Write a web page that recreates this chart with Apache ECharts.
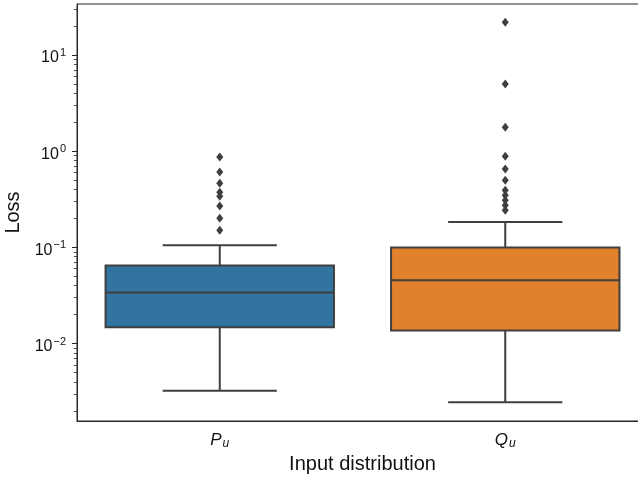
<!DOCTYPE html>
<html>
<head>
<meta charset="utf-8">
<script src="https://cdn.jsdelivr.net/npm/echarts@6/dist/echarts.min.js"></script>
<style>
html, body { margin: 0; padding: 0; background: #fff; }
#chart { width: 638px; height: 477px; }
</style>
</head>
<body>
<div id="chart"></div>
<script>
var categories = ['P', 'Q'];
var boxColors = ['#3274a1', '#e1812c'];
// [lower whisker, Q1, median, Q3, upper whisker] of the loss
var boxP = [0.00324, 0.0148, 0.0340, 0.0649, 0.105];
var boxQ = [0.00245, 0.0137, 0.0456, 0.0998, 0.184];
var outliersP = [0.869, 0.607, 0.466, 0.375, 0.341, 0.269, 0.201, 0.151];
var outliersQ = [22.0, 4.99, 1.78, 0.889, 0.652, 0.500, 0.394, 0.349, 0.310, 0.275, 0.244];
var majorTicks = [-2, -1, 0, 1];
var yMin = -2.805, yMax = 1.531;

var lineColor = '#3f3f3f';
var font = 'Liberation Sans, Arial, Helvetica, sans-serif';

// log axis emulated on a value axis: minor ticks at k*10^n
var minorTicks = [];
for (var n = -3; n <= 1; ++n) {
    for (var k = 2; k <= 9; ++k) {
        var t = n + Math.log10(k);
        if (t > yMin && t < yMax) minorTicks.push(t);
    }
}

var boxData = [boxP, boxQ].map(function (b, i) {
    return [i].concat(b.map(function (v) { return Math.log10(v); }));
});
var flierData = [];
outliersP.forEach(function (v) { flierData.push([0, Math.log10(v)]); });
outliersQ.forEach(function (v) { flierData.push([1, Math.log10(v)]); });

function renderBox(params, api) {
    var x = api.value(0);
    var bw = api.size([1, 0])[0] * 0.8;
    var lo = api.coord([x, api.value(1)]);
    var q1 = api.coord([x, api.value(2)]);
    var md = api.coord([x, api.value(3)]);
    var q3 = api.coord([x, api.value(4)]);
    var hi = api.coord([x, api.value(5)]);
    var cx = lo[0];
    var stroke = { stroke: lineColor, lineWidth: 2, fill: null };
    return {
        type: 'group',
        children: [
            { type: 'line', shape: { x1: cx, y1: lo[1], x2: cx, y2: q1[1] }, style: stroke },
            { type: 'line', shape: { x1: cx, y1: q3[1], x2: cx, y2: hi[1] }, style: stroke },
            { type: 'line', shape: { x1: cx - bw / 4, y1: lo[1], x2: cx + bw / 4, y2: lo[1] }, style: stroke },
            { type: 'line', shape: { x1: cx - bw / 4, y1: hi[1], x2: cx + bw / 4, y2: hi[1] }, style: stroke },
            { type: 'rect', shape: { x: cx - bw / 2, y: q3[1], width: bw, height: q1[1] - q3[1] },
              style: { fill: boxColors[params.dataIndex], stroke: lineColor, lineWidth: 2 } },
            { type: 'line', shape: { x1: cx - bw / 2, y1: md[1], x2: cx + bw / 2, y2: md[1] }, style: stroke }
        ]
    };
}

var chart = echarts.init(document.getElementById('chart'));
chart.setOption({
    animation: false,
    textStyle: { fontFamily: font },
    grid: {
        left: 77, right: -10, top: 4, bottom: 56,
        outerBoundsMode: 'none',
        containLabel: false,
        show: true, borderColor: '#262626', borderWidth: 1, backgroundColor: 'transparent'
    },
    xAxis: {
        type: 'category',
        data: categories,
        boundaryGap: true,
        name: 'Input distribution',
        nameLocation: 'middle',
        nameGap: 33,
        nameTextStyle: { fontSize: 20, color: '#111', fontFamily: font },
        axisLine: { onZero: false, lineStyle: { color: '#262626', width: 1 } },
        axisTick: { alignWithLabel: true, length: 5, lineStyle: { color: '#262626', width: 1 } },
        axisLabel: {
            margin: 9,
            formatter: function (v) { return '{i|' + v + '}{s|u}'; },
            rich: {
                i: { fontSize: 17, fontStyle: 'italic', color: '#111', fontFamily: font },
                s: { fontSize: 12, fontStyle: 'italic', color: '#111', fontFamily: font, padding: [8, 0, 0, 1] }
            }
        },
        splitLine: { show: false }
    },
    yAxis: [{
        type: 'value',
        min: yMin,
        max: yMax,
        name: 'Loss',
        nameLocation: 'middle',
        nameGap: 46,
        nameRotate: 90,
        nameTextStyle: { fontSize: 20, color: '#111', fontFamily: font },
        axisLine: { show: true, onZero: false, lineStyle: { color: '#262626', width: 1 } },
        axisTick: { show: true, length: 5, customValues: majorTicks, lineStyle: { color: '#262626', width: 1 } },
        axisLabel: {
            margin: 11,
            customValues: majorTicks,
            formatter: function (v) {
                var e = v < 0 ? '\u2212' + (-v) : String(v);
                return '{b|10}{s|' + e + '}';
            },
            rich: {
                b: { fontSize: 16, color: '#111', fontFamily: font, padding: [6, 0, 0, 0] },
                s: { fontSize: 11, color: '#111', fontFamily: font, padding: [0, 0, 4, 1] }
            }
        },
        splitLine: { show: false }
    }, {
        type: 'value',
        min: yMin,
        max: yMax,
        position: 'left',
        axisLine: { show: false, onZero: false },
        axisTick: { show: true, length: 3, customValues: minorTicks, lineStyle: { color: '#262626', width: 0.8 } },
        axisLabel: { show: false },
        splitLine: { show: false }
    }],
    series: [{
        type: 'custom',
        renderItem: renderBox,
        data: boxData,
        encode: { x: 0, y: [1, 2, 3, 4, 5] },
        z: 2
    }, {
        type: 'scatter',
        data: flierData,
        symbol: 'diamond',
        symbolSize: [7, 9],
        itemStyle: { color: lineColor, opacity: 1 },
        z: 3
    }]
});
</script>
</body>
</html>
